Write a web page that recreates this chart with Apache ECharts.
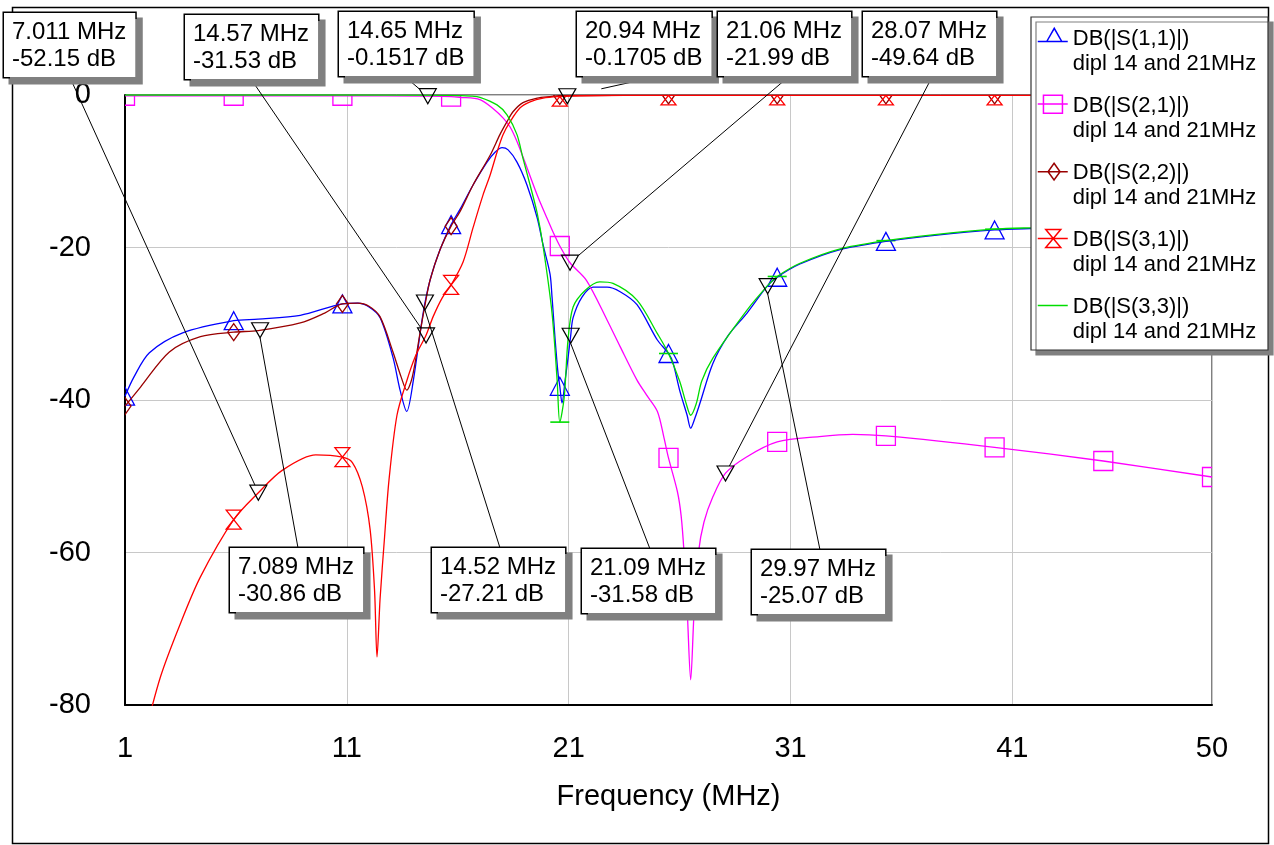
<!DOCTYPE html>
<html>
<head>
<meta charset="utf-8">
<script src="https://cdn.jsdelivr.net/npm/echarts@6/dist/echarts.min.js"></script>
<style>
html,body{margin:0;padding:0;background:#fff;}
#chart{width:1274px;height:845px;}
</style>
</head>
<body>
<div id="chart"></div>
<script>
// ---------- data ----------
const markerGridFreqs = [1, 5.9, 10.8, 15.7, 20.6, 25.5, 30.4, 35.3, 40.2, 45.1, 50];

const s11Freq = [1, 1.4, 2.1, 3.6, 5.9, 7.0, 8.9, 10.8, 11.5, 12.0, 12.5, 13.08, 13.4, 13.7, 14.0, 14.44, 14.75, 15.2, 15.7, 16.1, 16.69, 17.32, 17.68, 18.0, 18.27, 18.67, 19.12, 19.58, 19.85, 20.16, 20.25, 20.39, 20.52, 20.6, 20.7, 20.84, 20.97, 21.09, 21.2, 21.6, 22.1, 22.73, 23.32, 24.08, 24.99, 25.5, 25.7, 26.0, 26.34, 26.5, 26.7, 26.92, 27.5, 28.2, 29.04, 29.94, 30.4, 31.4, 33.2, 35.3, 37.5, 40.2, 42, 45.1, 50];
const s11Db = [-39.5, -37, -33.8, -31.2, -29.6, -29.4, -28.9, -27.4, -27.3, -27.8, -29.2, -34.4, -38.7, -41.5, -37.4, -28.6, -24.3, -20.3, -17.0, -15.0, -11.8, -8.8, -7.5, -6.9, -7.2, -8.8, -11.8, -16.1, -19.7, -23.5, -26.5, -32.1, -36.5, -38.2, -40.4, -37.4, -34.5, -31.6, -29.2, -26.5, -25.2, -25.2, -25.8, -27.5, -32.1, -33.9, -35.1, -38.7, -42, -43.7, -42.3, -40.4, -35.2, -31.5, -28.6, -25.1, -23.9, -22.2, -20.3, -19.2, -18.4, -17.7, -17.5, -17.2, -16.8];

const s21Freq = [1, 5.9, 10.8, 14.65, 15.7, 16.1, 17.0, 17.6, 18.04, 18.36, 18.67, 19.13, 19.58, 20.03, 20.3, 20.6, 21.06, 21.8, 22.73, 23.32, 24.08, 24.5, 25.0, 25.3, 25.5, 25.9, 26.07, 26.2, 26.35, 26.5, 26.65, 26.85, 27.1, 27.5, 28.07, 29.0, 30.4, 32.3, 33.8, 35.3, 40.2, 45.1, 50];
const s21Db = [-0.1, -0.1, -0.1, -0.15, -0.2, -0.3, -0.6, -1.8, -3.0, -4.2, -6.1, -9.6, -13.1, -16.2, -18.0, -19.8, -22.0, -24.3, -29.5, -33.0, -37.4, -39.3, -41.5, -45.0, -47.6, -52.0, -55.2, -60.0, -68.0, -76.7, -68.0, -60.0, -56.0, -52.7, -49.6, -47.5, -45.5, -44.8, -44.5, -44.7, -46.2, -48.0, -50.1];

const s22Freq = [1, 1.7, 3.0, 4.4, 5.9, 7.0, 8.9, 10.0, 10.8, 11.5, 12.0, 12.5, 13.08, 13.45, 13.7, 13.95, 14.3, 14.52, 14.75, 15.2, 15.7, 16.1, 16.69, 17.46, 17.9, 18.22, 18.49, 18.94, 19.58, 20.16, 20.6, 25.5, 30.4, 35.3, 40.2, 45.1, 50];
const s22Db = [-40.8, -38.3, -33.7, -31.7, -31.1, -30.9, -29.9, -28.6, -27.4, -27.3, -27.7, -29.1, -33.7, -37.0, -38.7, -37.0, -31.2, -27.6, -24.3, -20.3, -17.2, -15.3, -11.8, -7.9, -5.2, -3.5, -2.2, -1.0, -0.4, -0.2, -0.1, -0.05, -0.05, -0.05, -0.05, -0.05, -0.05];

const s31Freq = [1, 1.8, 2.6, 3.5, 4.4, 5.9, 7.0, 8.1, 9.6, 10.8, 11.25, 11.7, 12.05, 12.25, 12.36, 12.5, 12.7, 12.9, 13.26, 13.7, 14.1, 14.57, 14.9, 15.3, 15.7, 16.24, 16.69, 17.14, 17.46, 17.77, 18.04, 18.36, 18.8, 19.26, 19.85, 20.6, 21.5, 25.5, 30.4, 35.3, 40.2, 45.1, 50];
const s31Db = [-95, -85, -76.3, -69.3, -63.2, -55.7, -52.2, -49.2, -47.2, -47.5, -48.2, -51.4, -57.0, -65.0, -73.7, -66.0, -58.0, -50.5, -42.0, -37.5, -34.2, -31.5, -29.0, -26.6, -24.9, -21.9, -17.4, -13.1, -10.5, -7.5, -5.2, -3.5, -1.7, -0.9, -0.4, -0.2, -0.1, -0.05, -0.05, -0.05, -0.05, -0.05, -0.05];

const s33Freq = [1, 5.9, 10.8, 15.7, 16.6, 17.0, 17.77, 18.22, 18.67, 18.94, 19.26, 19.58, 19.85, 20.25, 20.48, 20.6, 20.8, 20.97, 21.2, 21.75, 22.4, 23.0, 24.08, 25.0, 25.5, 26.0, 26.3, 26.5, 26.75, 27.0, 27.5, 29.04, 29.97, 30.4, 31.4, 33.2, 35.3, 37.5, 40.2, 42, 45.1, 50];
const s33Db = [0, 0, 0, -0.05, -0.15, -0.3, -1.3, -2.6, -5.2, -8.3, -11.8, -15.5, -19.9, -28.6, -37.4, -42.9, -39.6, -32.1, -27.8, -25.6, -24.5, -24.7, -26.9, -31.3, -33.9, -37.5, -40.5, -42.0, -40.5, -37.5, -34.5, -28.2, -25.0, -23.8, -22.1, -20.2, -19.1, -18.3, -17.6, -17.4, -17.1, -16.7];

const markerFreq = [7.011, 14.57, 14.65, 20.94, 21.06, 28.07, 7.089, 14.52, 21.09, 29.97];
const markerDb = [-52.15, -31.53, -0.1517, -0.1705, -21.99, -49.64, -30.86, -27.21, -31.58, -25.07];

const seriesNames = ['DB(|S(1,1)|)', 'DB(|S(2,1)|)', 'DB(|S(2,2)|)', 'DB(|S(3,1)|)', 'DB(|S(3,3)|)'];
const legendSubtitle = 'dipl 14 and 21MHz';
const xAxisTitle = 'Frequency (MHz)';
const xStart = 1;      // MHz at the left edge of the axis
const xEnd = 50;       // MHz at the right edge

// ---------- styling / layout ----------
const FONT = '"Liberation Sans", Arial, Helvetica, sans-serif';
const colors = ['#0000ff', '#ff00ff', '#990000', '#ff0000', '#00dd00'];
const symbolPaths = ['M5,0L10,10L0,10Z', 'M0,0H10V10H0Z', 'M5,0L10,5L5,10L0,5Z', 'M0,0H10L0,10H10Z', 'M0,0H10V10H0Z'];
const symbolSizes = [[19, 18], [19, 19], [12, 17], [15, 19], [19, 1.6]];
const legendIcons = [
  'path://M0,0L0,0M30,46L30,46M0,13.5H30M9,13.5L16.5,0.3L24,13.5Z',
  'path://M0,0L0,0M30,46L30,46M0,9H30M5.7,0.2H24.7V18.3H5.7Z',
  'path://M0,0L0,0M30,46L30,46M0,9.7H30M16.3,1.3L22.3,9.7L16.3,18L10.3,9.7Z',
  'path://M0,0L0,0M30,46L30,46M0,9.6H30M8,0.6H23L8,18.6H23Z',
  'path://M0,0L0,0M30,46L30,46M0,9.5H30'
];
const labelBoxPos = [[4,13],[185,15],[339,12],[577,12],[718,12],[863,12],[230,548],[432,548],[582,549],[752,550]];
const MARKER_SIZE = [17, 15];

const curves = [[s11Freq, s11Db], [s21Freq, s21Db], [s22Freq, s22Db], [s31Freq, s31Db], [s33Freq, s33Db]];

const lineSeries = curves.map(function (c, k) {
  const freqs = c[0], dbs = c[1];
  return {
    type: 'line',
    name: seriesNames[k],
    data: freqs.map(function (f, i) { return [f - xStart, dbs[i]]; }),
    showSymbol: false,
    symbol: 'none',
    smooth: 0.3,
    lineStyle: { color: colors[k], width: 1.3 },
    itemStyle: { color: colors[k] },
    emphasis: { disabled: true },
    silent: true,
    z: 2
  };
});

// curve symbols (every 4.9 MHz), clipped to the plot area like the original
const curveMarkerSeries = curves.map(function (c, k) {
  const freqs = c[0], dbs = c[1];
  const pts = [];
  freqs.forEach(function (f, i) {
    if (markerGridFreqs.indexOf(f) >= 0) pts.push([f - xStart, dbs[i]]);
  });
  return {
    type: 'custom',
    name: seriesNames[k] + ' symbols',
    data: pts,
    encode: { x: 0, y: 1 },
    clip: true,
    silent: true,
    z: 2,
    renderItem: function (params, api) {
      const pt = api.coord([api.value(0), api.value(1)]);
      const w = symbolSizes[k][0], h = symbolSizes[k][1];
      return {
        type: 'path',
        shape: { pathData: symbolPaths[k], x: pt[0] - w / 2, y: pt[1] - h / 2, width: w, height: h, layout: 'cover' },
        style: k === 4 ? { fill: colors[k], stroke: 'none' }
                       : { fill: 'none', stroke: colors[k], lineWidth: 1.3 }
      };
    }
  };
});

const labelSizes = [];
const markerSeries = {
  type: 'scatter',
  name: 'markers',
  data: markerFreq.map(function (f, i) { return [f - xStart, markerDb[i]]; }),
  symbol: 'triangle',
  symbolRotate: 180,
  symbolSize: MARKER_SIZE,
  itemStyle: { color: 'rgba(0,0,0,0)', borderColor: '#000', borderWidth: 1.2, opacity: 1 },
  label: {
    show: true,
    formatter: function (p) { return markerFreq[p.dataIndex] + ' MHz\n' + markerDb[p.dataIndex] + ' dB'; },
    fontFamily: FONT, fontSize: 24, lineHeight: 27, color: '#000', opacity: 1,
    backgroundColor: '#fff', borderColor: '#000', borderWidth: 1.5,
    padding: [6, 9, 4, 8],
    shadowColor: '#808080', shadowOffsetX: 6, shadowOffsetY: 6, shadowBlur: 0,
    align: 'left'
  },
  labelLine: { show: false },
  labelLayout: function (params) {
    const i = params.dataIndex;
    labelSizes[i] = [params.labelRect.width, params.labelRect.height];
    return { x: labelBoxPos[i][0], y: labelBoxPos[i][1], align: 'left', verticalAlign: 'top' };
  },
  emphasis: { disabled: true },
  silent: true,
  z: 5
};

const baseGraphics = [
  { type: 'rect', silent: true, z: 0,
    shape: { x: 12.5, y: 7.5, width: 1256, height: 836 },
    style: { fill: 'none', stroke: '#000', lineWidth: 1.5 } },
  { type: 'rect', silent: true, z: 3,
    shape: { x: 1031, y: 17, width: 237, height: 333 },
    style: { fill: '#fff', stroke: '#333', lineWidth: 1.2, shadowColor: '#808080', shadowOffsetX: 5, shadowOffsetY: 5, shadowBlur: 0 } }
];

const chart = echarts.init(document.getElementById('chart'), null, { renderer: 'canvas' });
chart.setOption({
  animation: false,
  backgroundColor: '#fff',
  textStyle: { fontFamily: FONT },
  grid: { left: 125, right: 62, top: 95, bottom: 140, show: true, borderColor: '#000', borderWidth: 1, backgroundColor: 'rgba(0,0,0,0)', containLabel: false, outerBoundsMode: 'none' },
  xAxis: {
    type: 'value', min: 0, max: xEnd - xStart, interval: 10,
    name: xAxisTitle, nameLocation: 'middle', nameGap: 77,
    nameTextStyle: { fontFamily: FONT, fontSize: 29, color: '#000' },
    axisLine: { show: true, onZero: false, lineStyle: { color: '#000', width: 2 } },
    axisTick: { show: false },
    axisLabel: { fontFamily: FONT, fontSize: 29, color: '#000', margin: 29,
      formatter: function (v) { return String(Math.round(v + xStart)); } },
    splitLine: { show: true, lineStyle: { color: '#c8c8c8', width: 1 } }
  },
  yAxis: {
    type: 'value', min: -80, max: 0, interval: 20,
    axisLine: { show: true, onZero: false, lineStyle: { color: '#000', width: 2 } },
    axisTick: { show: false },
    axisLabel: { fontFamily: FONT, fontSize: 29, color: '#000', margin: 34 },
    splitLine: { show: true, lineStyle: { color: '#c8c8c8', width: 1 } }
  },
  legend: {
    orient: 'vertical', left: 1037, top: 26, padding: 0,
    itemGap: 17, itemWidth: 30, itemHeight: 46,
    selectedMode: false,
    data: seriesNames.map(function (n, k) {
      return { name: n, icon: legendIcons[k],
        itemStyle: { color: 'rgba(0,0,0,0)', borderColor: colors[k], borderWidth: 1.5 } };
    }),
    formatter: function (n) { return n + '\n' + legendSubtitle; },
    textStyle: { fontFamily: FONT, fontSize: 22, lineHeight: 25, color: '#000' },
    z: 4
  },
  graphic: baseGraphics,
  series: lineSeries.concat(curveMarkerSeries, [markerSeries])
});

// leader lines from each marker box (bottom/top centre) to the marker triangle
const leaderLines = markerFreq.map(function (f, i) {
  const p = chart.convertToPixel({ gridIndex: 0 }, [f - xStart, markerDb[i]]);
  const sz = labelSizes[i] || [134, 64];
  const pos = labelBoxPos[i];
  const above = pos[1] < p[1];
  const ax = pos[0] + sz[0] / 2, ay = above ? pos[1] + sz[1] : pos[1];
  const half = MARKER_SIZE[1] / 2;
  let ex, ey;
  if (above) {
    ey = p[1] - half;
    ex = ax + (p[0] - ax) * (ey - ay) / (p[1] - ay);
  } else {
    ex = p[0]; ey = p[1] + half;
  }
  return { type: 'line', silent: true, z: 4,
    shape: { x1: ax, y1: ay, x2: ex, y2: ey },
    style: { stroke: '#000', lineWidth: 1 } };
});
chart.setOption({ graphic: baseGraphics.concat(leaderLines) });
</script>
</body>
</html>
